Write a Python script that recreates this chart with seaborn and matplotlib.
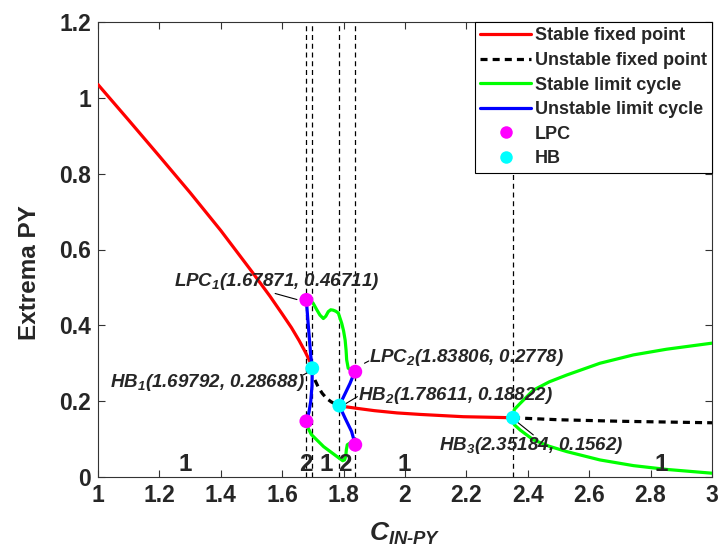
import matplotlib
matplotlib.use("Agg")
import matplotlib.pyplot as plt
import seaborn as sns
import numpy as np
import pandas as pd
from matplotlib.lines import Line2D
from matplotlib.ticker import FuncFormatter

# ---------------- data ----------------
red1_x = [1.0, 1.1, 1.2, 1.3, 1.4, 1.5, 1.56, 1.6, 1.63, 1.655, 1.675, 1.69, 1.69792]
red1_y = [1.035, 0.941, 0.846, 0.750, 0.650, 0.543, 0.477, 0.430, 0.394, 0.360, 0.330, 0.305, 0.28688]

uns1_x = [1.69792, 1.70, 1.707, 1.717, 1.73, 1.745, 1.76, 1.772, 1.78611]
uns1_y = [0.28688, 0.27, 0.255, 0.238, 0.221, 0.207, 0.198, 0.193, 0.18822]

red2_x = [1.78611, 1.80, 1.844, 1.9, 1.974, 2.05, 2.19, 2.3, 2.35184]
red2_y = [0.18822, 0.186, 0.181, 0.175, 0.169, 0.165, 0.159, 0.1572, 0.1562]

uns2_x = [2.35184, 2.5, 2.7, 3.0]
uns2_y = [0.1562, 0.151, 0.147, 0.143]

blue1_x = [1.67871, 1.683, 1.688, 1.693, 1.69792, 1.697, 1.693, 1.687, 1.67871]
blue1_y = [0.46711, 0.42, 0.37, 0.32, 0.28688, 0.24, 0.20, 0.17, 0.147]

blue2_x = [1.83806, 1.832, 1.821, 1.805, 1.78611, 1.805, 1.826, 1.83806]
blue2_y = [0.2778, 0.269, 0.247, 0.22, 0.18822, 0.155, 0.12, 0.085]

green1_x = [1.67871, 1.69, 1.701, 1.712, 1.723, 1.734, 1.742, 1.750, 1.758, 1.766,
            1.775, 1.783, 1.794, 1.800, 1.805, 1.808, 1.810, 1.815, 1.822, 1.832, 1.83806]
green1_y = [0.46711, 0.466, 0.458, 0.442, 0.427, 0.418, 0.424, 0.436, 0.441, 0.440,
            0.437, 0.432, 0.405, 0.385, 0.361, 0.335, 0.309, 0.287, 0.283, 0.282, 0.2778]

green2_x = [1.67871, 1.685, 1.695, 1.71, 1.735, 1.765, 1.785, 1.797, 1.803, 1.807,
            1.809, 1.812, 1.822, 1.83806]
green2_y = [0.147, 0.128, 0.112, 0.1, 0.08, 0.062, 0.05, 0.043, 0.045, 0.055,
            0.072, 0.085, 0.09, 0.085]

green3u_x = [2.35184, 2.356, 2.375, 2.418, 2.47, 2.527, 2.635, 2.744, 2.852, 3.0]
green3u_y = [0.1562, 0.178, 0.194, 0.229, 0.251, 0.269, 0.300, 0.322, 0.337, 0.353]
green3l_x = [2.35184, 2.356, 2.375, 2.418, 2.47, 2.527, 2.635, 2.744, 2.852, 3.0]
green3l_y = [0.1562, 0.138, 0.124, 0.098, 0.081, 0.067, 0.045, 0.030, 0.020, 0.010]

lpc_x = [1.67871, 1.67871, 1.83806, 1.83806]
lpc_y = [0.46711, 0.147, 0.2778, 0.085]
hb_x = [1.69792, 1.78611, 2.35184]
hb_y = [0.28688, 0.18822, 0.1562]

vlines_x = [1.67871, 1.69792, 1.78611, 1.83806, 2.35184]

region_labels = ["1", "2", "1", "2", "1", "1"]
region_x = [1.283, 1.678, 1.743, 1.805, 1.997, 2.836]
region_y = [0.034] * 6

annot_texts = ["LPC$_1$(1.67871, 0.46711)", "HB$_1$(1.69792, 0.28688)",
               "LPC$_2$(1.83806, 0.2778)", "HB$_2$(1.78611, 0.18822)",
               "HB$_3$(2.35184, 0.1562)"]

x_ticks = [1, 1.2, 1.4, 1.6, 1.8, 2, 2.2, 2.4, 2.6, 2.8, 3]
y_ticks = [0, 0.2, 0.4, 0.6, 0.8, 1, 1.2]

legend_labels = ["Stable fixed point", "Unstable fixed point", "Stable limit cycle",
                 "Unstable limit cycle", "LPC", "HB"]

# ---------------- style ----------------
sns.set_style("ticks")
plt.rcParams['font.family'] = ['Liberation Sans', 'DejaVu Sans']
plt.rcParams['font.weight'] = 'bold'
plt.rcParams['mathtext.fontset'] = 'custom'
plt.rcParams['mathtext.rm'] = 'Liberation Sans:bold:italic'
plt.rcParams['mathtext.it'] = 'Liberation Sans:bold:italic'
plt.rcParams['mathtext.bf'] = 'Liberation Sans:bold:italic'

RED, GREEN, BLUE = '#ff0000', '#00ff00', '#0000ff'
MAG, CYAN = '#ff00ff', '#00ffff'
LW = 2.3

fig = plt.figure(figsize=(7.19, 5.5), dpi=100)
ax = fig.add_axes([98/719, 73/550, 614/719, 455/550])

for xv in vlines_x:
    ax.plot([xv, xv], [0, 1.2], color='black', lw=0.9, ls=(0, (4, 3)), zorder=1)

def seg(xs, ys, color, dashed=False):
    df = pd.DataFrame({'x': xs, 'y': ys})
    sns.lineplot(data=df, x='x', y='y', sort=False, estimator=None, ax=ax,
                 color=color, lw=LW, zorder=3,
                 linestyle=(0, (2.2, 1.6)) if dashed else '-')

seg(red1_x, red1_y, RED)
seg(uns1_x, uns1_y, 'black', dashed=True)
seg(red2_x, red2_y, RED)
seg(uns2_x, uns2_y, 'black', dashed=True)
seg(green1_x, green1_y, GREEN)
seg(green2_x, green2_y, GREEN)
seg(green3u_x, green3u_y, GREEN)
seg(green3l_x, green3l_y, GREEN)
seg(blue1_x, blue1_y, BLUE)
seg(blue2_x, blue2_y, BLUE)

sns.scatterplot(x=lpc_x, y=lpc_y, ax=ax, color=MAG, s=100, edgecolor='none', zorder=5)
sns.scatterplot(x=hb_x, y=hb_y, ax=ax, color=CYAN, s=100, edgecolor='none', zorder=5)

# region numbers
for t, xv, yv in zip(region_labels, region_x, region_y):
    ax.text(xv, yv, t, fontsize=17.5, fontweight='bold', ha='center', va='center', zorder=6)

# annotations: text positions and leader lines
afs = 13.5
tkw = dict(fontsize=afs, fontweight='bold', fontstyle='italic', zorder=6)
ax.text(1.918, 0.515, annot_texts[0], ha='right', va='center', **tkw)
ax.plot([1.577, 1.648], [0.484, 0.468], color='black', lw=0.8, zorder=4)
ax.text(1.674, 0.248, annot_texts[1], ha='right', va='center', **tkw)
ax.plot([1.668, 1.69], [0.269, 0.278], color='black', lw=0.8, zorder=4)
ax.text(1.882, 0.314, annot_texts[2], ha='left', va='center', **tkw)
ax.plot([1.868, 1.882], [0.300, 0.306], color='black', lw=0.8, zorder=4)
ax.text(1.847, 0.216, annot_texts[3], ha='left', va='center', **tkw)
ax.plot([1.80, 1.845], [0.19, 0.212], color='black', lw=0.8, zorder=4)
ax.text(2.11, 0.082, annot_texts[4], ha='left', va='center', **tkw)
ax.plot([2.364, 2.418], [0.146, 0.111], color='black', lw=0.8, zorder=4)

ax.set_xlim(1, 3)
ax.set_ylim(0, 1.2)
ax.set_xticks(x_ticks)
ax.set_yticks(y_ticks)
fmt = FuncFormatter(lambda v, p: f"{v:g}")
ax.xaxis.set_major_formatter(fmt)
ax.yaxis.set_major_formatter(fmt)
ax.tick_params(direction='in', length=5, width=0.8, top=True, right=True,
               labelsize=16.5, pad=5, color='#333333')
for lab in ax.get_xticklabels() + ax.get_yticklabels():
    lab.set_fontweight('bold')
for sp in ax.spines.values():
    sp.set_visible(True)
    sp.set_linewidth(0.8)
    sp.set_color('#333333')

ax.set_xlabel(r"$C_{IN\text{-}PY}$", fontsize=19, labelpad=10)
ax.set_ylabel("Extrema PY", fontsize=17.5, fontweight='bold')
ax.yaxis.set_label_coords(-0.093, 0.45)

handles = [
    Line2D([], [], color=RED, lw=LW),
    Line2D([], [], color='black', lw=LW, ls=(0, (2.2, 1.6))),
    Line2D([], [], color=GREEN, lw=LW),
    Line2D([], [], color=BLUE, lw=LW),
    Line2D([], [], color=MAG, lw=0, marker='o', markersize=9, markeredgewidth=0),
    Line2D([], [], color=CYAN, lw=0, marker='o', markersize=9, markeredgewidth=0),
]
leg = ax.legend(handles, legend_labels, loc='upper right', borderaxespad=0,
                fancybox=False, framealpha=1, edgecolor='black',
                prop={'weight': 'bold', 'size': 13}, handlelength=2.8,
                handletextpad=0.2, labelspacing=0.42, borderpad=0.3)
leg.get_frame().set_linewidth(0.8)
leg.set_zorder(10)

fig.savefig("out.png", dpi=100)
